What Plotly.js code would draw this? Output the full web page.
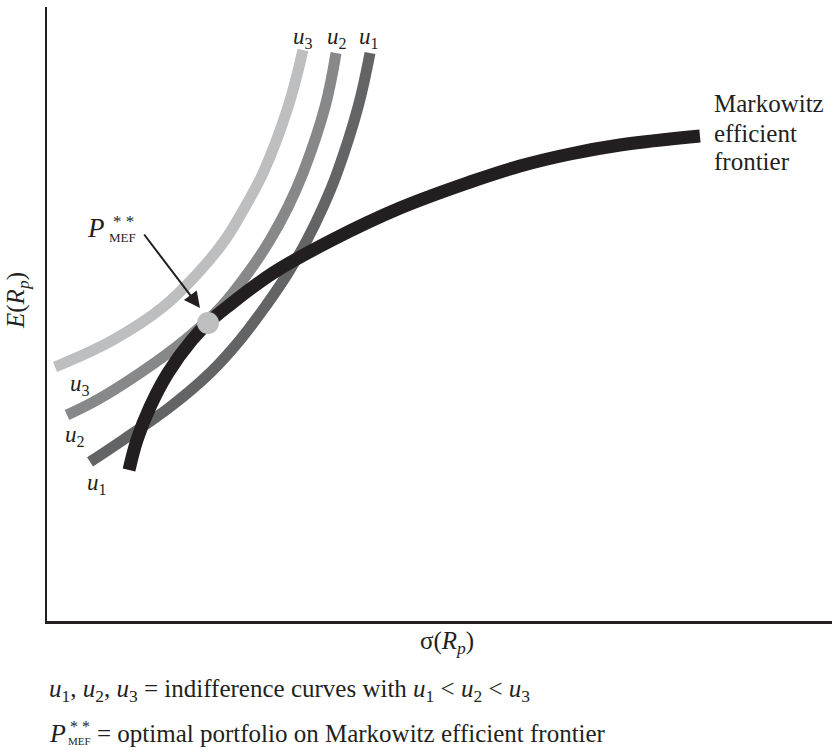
<!DOCTYPE html>
<html>
<head>
<meta charset="utf-8">
<script src="https://cdn.plot.ly/plotly-3.0.1.min.js"></script>
<style>html,body{margin:0;padding:0;background:#fff;}#chart{width:832px;height:751px;}</style>
</head>
<body>
<div id="chart"></div>
<script>
// Data (arbitrary units: sigma(Rp) on x, E(Rp) on y, both 0-100)
const frontierX = [10.45, 11.46, 13.12, 15.41, 18.47, 20.51, 22.93, 28.79, 36.31, 44.97, 53.89, 60.25, 66.62, 72.99, 83.18];
const frontierY = [24.59, 29.48, 34.85, 40.39, 45.77, 48.53, 51.14, 56.68, 62.05, 67.26, 71.50, 74.10, 76.06, 77.52, 78.99];

const u1X = [5.48, 9.68, 15.67, 20.76, 24.59, 27.77, 30.70, 33.12, 35.16, 36.94, 39.62, 41.15];
const u1Y = [25.90, 29.48, 34.85, 40.39, 45.77, 51.14, 56.68, 62.05, 67.43, 72.96, 83.71, 92.51];

const u2X = [2.55, 6.37, 11.85, 17.58, 22.17, 25.61, 28.41, 30.70, 32.61, 35.41, 36.82];
const u2Y = [33.55, 35.99, 40.39, 45.77, 51.14, 56.68, 62.05, 67.43, 72.96, 83.71, 92.51];

const u3X = [1.02, 8.41, 14.78, 19.24, 22.68, 25.22, 27.52, 30.70, 32.61];
const u3Y = [41.37, 45.77, 51.14, 56.68, 62.05, 67.43, 72.96, 83.71, 93.00];

const optimalX = [20.51];
const optimalY = [48.53];

const curveNames = ['u1', 'u2', 'u3'];

// ---------- styling / layout helpers ----------
const FONT = 'Liberation Serif, Times New Roman, serif';
const INK = '#231f20';
const L = 47, T = 7, W = 785, H = 614;
const px = x => (x - L) / W;          // pixel -> paper x
const py = y => (T + H - y) / H;      // pixel -> paper y

function lineTrace(x, y, color, width, name) {
  return {x: x, y: y, type: 'scatter', mode: 'lines', name: name,
          line: {color: color, width: width, shape: 'spline', smoothing: 1.1},
          hoverinfo: 'skip', showlegend: false};
}

const traces = [
  lineTrace(u3X, u3Y, '#bcbec0', 11, curveNames[2]),
  lineTrace(u2X, u2Y, '#87888a', 11, curveNames[1]),
  lineTrace(u1X, u1Y, '#636466', 11, curveNames[0]),
  lineTrace(frontierX, frontierY, INK, 13, 'Markowitz efficient frontier'),
  {x: optimalX, y: optimalY, type: 'scatter', mode: 'markers', name: 'P**MEF',
   marker: {color: '#bcbec0', size: 22, line: {width: 0}}, hoverinfo: 'skip', showlegend: false}
];

function txt(text, x, y, size, xanchor, yanchor, extra) {
  return Object.assign({text: text, xref: 'paper', yref: 'paper', x: px(x), y: py(y),
    xanchor: xanchor || 'center', yanchor: yanchor || 'middle', showarrow: false,
    font: {family: FONT, size: size || 22, color: INK}, align: 'left'}, extra || {});
}

const annotations = [
  // top labels
  txt('<i>u</i><sub>3</sub>', 303, 38, 23),
  txt('<i>u</i><sub>2</sub>', 337, 38, 23),
  txt('<i>u</i><sub>1</sub>', 369, 38, 23),
  // left labels
  txt('<i>u</i><sub>3</sub>', 80, 385, 23),
  txt('<i>u</i><sub>2</sub>', 75, 436, 23),
  txt('<i>u</i><sub>1</sub>', 97, 484, 23),
  // P**MEF label
  txt('<i>P</i>', 96, 228, 27),
  txt('* *', 123, 221, 17),
  txt('MEF', 122, 237, 13),
  // arrow
  {x: 19.49, y: 50.98, ax: 12.23, ay: 63.19, xref: 'x', yref: 'y', axref: 'x', ayref: 'y',
   showarrow: true, arrowhead: 2, arrowsize: 1.6, arrowwidth: 2, arrowcolor: INK, standoff: 0, text: ''},
  // frontier label
  txt('Markowitz', 712, 104, 25, 'left', 'middle'),
  txt('efficient', 712, 133, 25, 'left', 'middle'),
  txt('frontier', 712, 161, 25, 'left', 'middle'),
  // axis titles
  txt('σ(<i>R</i><sub><i>p</i></sub>)', 447, 642, 25),
  txt('<i>E</i>(<i>R</i><sub><i>p</i></sub>)', 17, 301, 25, 'center', 'middle', {textangle: -90}),
  // footnotes
  txt('<i>u</i><sub>1</sub>, <i>u</i><sub>2</sub>, <i>u</i><sub>3</sub> = indifference curves with <i>u</i><sub>1</sub> &lt; <i>u</i><sub>2</sub> &lt; <i>u</i><sub>3</sub>', 47, 690, 25, 'left', 'middle'),
  txt('<i>P</i>', 57, 733, 26),
  txt('* *', 80, 726, 16),
  txt('MEF', 79, 741, 11),
  txt('= optimal portfolio on Markowitz efficient frontier', 95, 733, 25, 'left', 'middle')
];

const axisBase = {showgrid: false, zeroline: false, showticklabels: false, ticks: '',
  showline: true, linecolor: INK, linewidth: 2.5, fixedrange: true};

const layout = {
  width: 832, height: 751,
  margin: {l: L, r: 0, t: T, b: 751 - T - H},
  paper_bgcolor: '#ffffff', plot_bgcolor: '#ffffff',
  xaxis: Object.assign({range: [0, 100]}, axisBase),
  yaxis: Object.assign({range: [0, 100]}, axisBase),
  annotations: annotations,
  showlegend: false,
  font: {family: FONT, color: INK}
};

Plotly.newPlot('chart', traces, layout, {displayModeBar: false, staticPlot: true});
</script>
</body>
</html>
